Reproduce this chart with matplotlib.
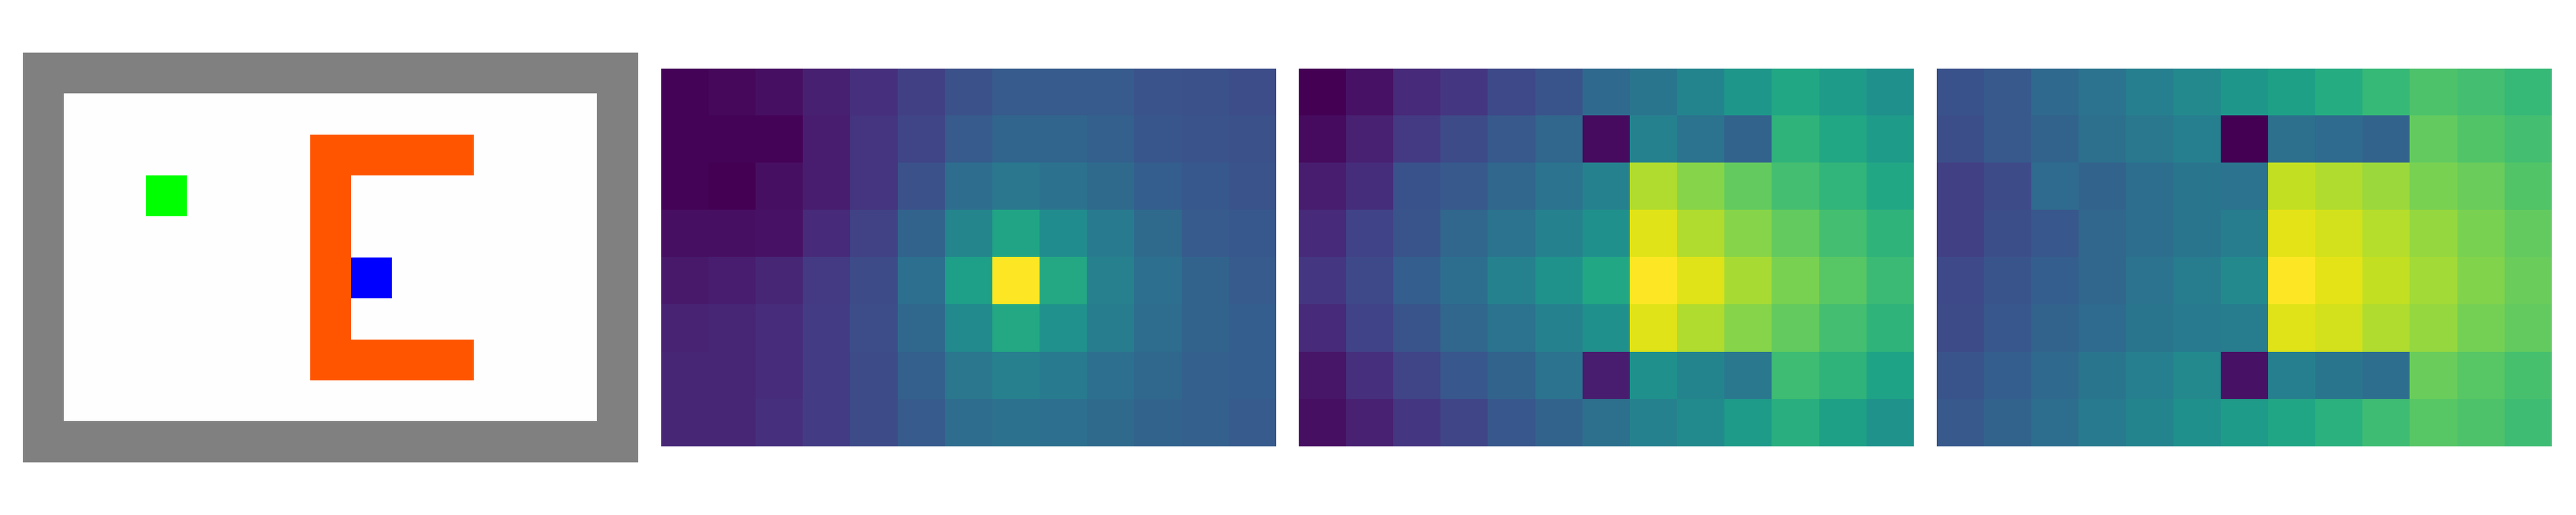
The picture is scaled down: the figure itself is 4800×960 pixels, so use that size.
import numpy as np
import matplotlib
matplotlib.use("Agg")
import matplotlib.pyplot as plt
from matplotlib.colors import ListedColormap

# gridworld layout, 15 x 10 with walls
# 0 floor, 1 wall, 2 obstacle, 3 goal, 4 agent
n_cols, n_rows = 15, 10
obstacle_cells = [(7, r) for r in range(2, 8)] + [(c, 2) for c in range(8, 11)] + [(c, 7) for c in range(8, 11)]
goal_cell = (3, 3)
agent_cell = (8, 5)
cell_colors = ['#fefefe', '#808080', '#ff5500', '#00ff00', '#0000ff']

# value maps (interior 13 x 8)
values_a = [
    [0.00, 0.01, 0.03, 0.08, 0.13, 0.18, 0.24, 0.28, 0.28, 0.28, 0.25, 0.24, 0.23],
    [0.00, 0.00, 0.00, 0.07, 0.14, 0.20, 0.28, 0.32, 0.32, 0.30, 0.26, 0.25, 0.24],
    [0.00, -0.01, 0.03, 0.07, 0.14, 0.24, 0.35, 0.39, 0.37, 0.34, 0.29, 0.27, 0.25],
    [0.03, 0.03, 0.04, 0.11, 0.19, 0.31, 0.45, 0.58, 0.48, 0.41, 0.34, 0.28, 0.27],
    [0.06, 0.07, 0.10, 0.16, 0.22, 0.36, 0.56, 1.00, 0.60, 0.43, 0.36, 0.31, 0.28],
    [0.09, 0.10, 0.12, 0.17, 0.23, 0.33, 0.47, 0.60, 0.50, 0.42, 0.35, 0.31, 0.29],
    [0.10, 0.10, 0.12, 0.17, 0.22, 0.30, 0.39, 0.43, 0.41, 0.36, 0.33, 0.30, 0.29],
    [0.10, 0.10, 0.13, 0.17, 0.22, 0.28, 0.35, 0.37, 0.36, 0.34, 0.31, 0.30, 0.28],
]
values_b = [
    [0.00, 0.05, 0.12, 0.16, 0.22, 0.26, 0.34, 0.39, 0.45, 0.53, 0.60, 0.55, 0.50],
    [0.03, 0.09, 0.17, 0.23, 0.28, 0.33, 0.03, 0.44, 0.38, 0.32, 0.65, 0.60, 0.55],
    [0.08, 0.13, 0.25, 0.28, 0.33, 0.38, 0.44, 0.88, 0.82, 0.76, 0.70, 0.66, 0.60],
    [0.12, 0.20, 0.26, 0.33, 0.38, 0.44, 0.50, 0.95, 0.88, 0.82, 0.76, 0.70, 0.65],
    [0.16, 0.22, 0.30, 0.36, 0.44, 0.51, 0.60, 1.00, 0.95, 0.87, 0.80, 0.74, 0.68],
    [0.12, 0.20, 0.26, 0.33, 0.38, 0.44, 0.50, 0.95, 0.88, 0.82, 0.76, 0.70, 0.65],
    [0.06, 0.14, 0.21, 0.27, 0.32, 0.38, 0.08, 0.50, 0.45, 0.40, 0.69, 0.65, 0.58],
    [0.04, 0.09, 0.16, 0.21, 0.27, 0.32, 0.37, 0.44, 0.48, 0.55, 0.63, 0.57, 0.51],
]
values_c = [
    [0.25, 0.28, 0.34, 0.38, 0.43, 0.47, 0.53, 0.57, 0.62, 0.67, 0.72, 0.70, 0.67],
    [0.24, 0.28, 0.32, 0.37, 0.40, 0.43, 0.00, 0.37, 0.35, 0.32, 0.76, 0.73, 0.70],
    [0.19, 0.23, 0.35, 0.32, 0.36, 0.39, 0.38, 0.91, 0.88, 0.85, 0.80, 0.77, 0.73],
    [0.19, 0.24, 0.27, 0.33, 0.36, 0.39, 0.42, 0.96, 0.93, 0.89, 0.84, 0.80, 0.76],
    [0.22, 0.26, 0.30, 0.33, 0.38, 0.42, 0.47, 1.00, 0.96, 0.91, 0.86, 0.81, 0.77],
    [0.23, 0.27, 0.32, 0.35, 0.39, 0.41, 0.42, 0.95, 0.93, 0.88, 0.84, 0.79, 0.76],
    [0.26, 0.30, 0.34, 0.39, 0.43, 0.47, 0.05, 0.43, 0.39, 0.36, 0.77, 0.74, 0.71],
    [0.28, 0.32, 0.36, 0.41, 0.45, 0.50, 0.55, 0.59, 0.64, 0.69, 0.74, 0.72, 0.69],
]

grid = np.zeros((n_rows, n_cols), dtype=int)
grid[0, :] = 1
grid[-1, :] = 1
grid[:, 0] = 1
grid[:, -1] = 1
for c, r in obstacle_cells:
    grid[r, c] = 2
grid[goal_cell[1], goal_cell[0]] = 3
grid[agent_cell[1], agent_cell[0]] = 4

fig, axes = plt.subplots(1, 4, figsize=(48, 9.6), dpi=100)
fig.subplots_adjust(left=0.009, right=0.9904, bottom=0.03, top=0.97, wspace=0.038)

axes[0].imshow(grid, cmap=ListedColormap(cell_colors), vmin=0, vmax=4, interpolation='nearest')

for ax, vals in zip(axes[1:], [values_a, values_b, values_c]):
    ax.imshow(np.array(vals), cmap='viridis', interpolation='nearest')

for ax in axes:
    ax.axis('off')

fig.savefig("out.png", dpi=100)
